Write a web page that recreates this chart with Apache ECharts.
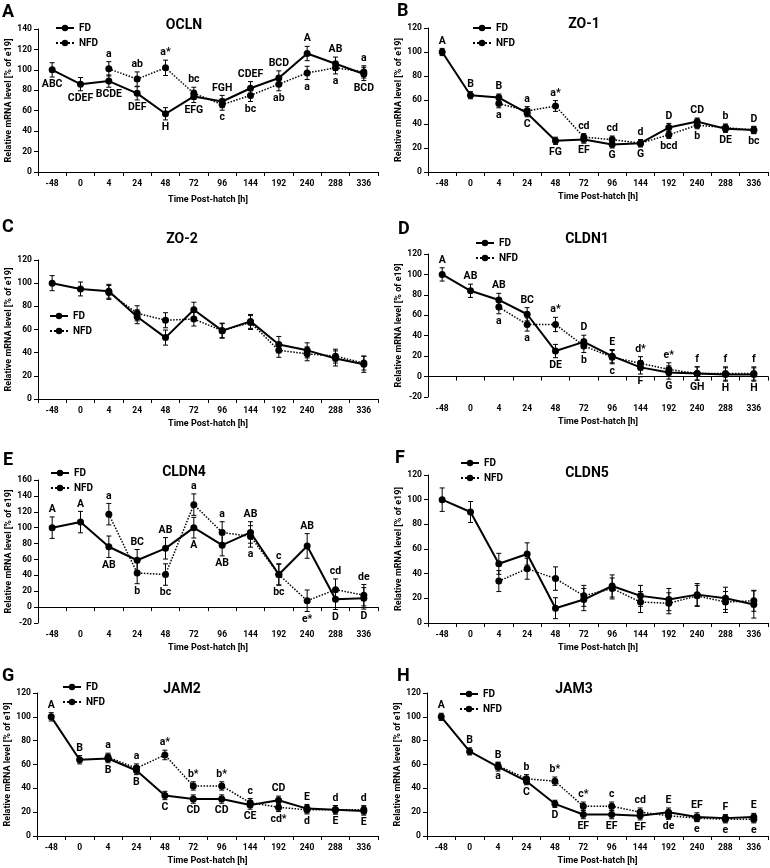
<!DOCTYPE html>
<html>
<head>
<meta charset="utf-8">
<script src="https://cdn.jsdelivr.net/npm/echarts@6/dist/echarts.min.js"></script>
<style>html,body{margin:0;padding:0;background:#fff}#c{width:770px;height:868px}</style>
</head>
<body>
<div id="c"></div>
<script>
// ---------- DATA ----------
const categories = ['-48','0','4','24','48','72','96','144','192','240','288','336'];
const geneTitles = ['OCLN','ZO-1','ZO-2','CLDN1','CLDN4','CLDN5','JAM2','JAM3'];
const panelLetters = ['A','B','C','D','E','F','G','H'];
const seriesNames = ['FD','NFD'];

// A OCLN
const oclnFD = [100,86,89,77,57,74,69,82,92,116,106,96];
const oclnNFD = [null,null,101,91,102,77,66,75,86,97,102,98];
const oclnFDErr = [7,6.5,6,6.5,6,6,6,6.5,7,7,6.5,6.5];
const oclnNFDErr = [null,null,7,7,7.5,6,5.5,6,6.5,6.5,6,6];
const oclnFDLab = ['ABC','CDEF','BCDE','DEF','H','EFG','FGH','CDEF','BCD','A','AB','BCD'];
const oclnFDPos = ['d','d','d','d','d','d','u','u','u','u','u','d'];
const oclnNFDLab = ['','','a','ab','a*','bc','c','bc','ab','a','a','a'];
const oclnNFDPos = ['','','u','u','u','u','d','d','d','d','d','u'];

// B ZO-1
const zo1FD = [100,64,62,49,26,27,23,24,37,42,36,35];
const zo1NFD = [null,null,57,51,55,29,27,24,31,39,37,35];
const zo1FDErr = [3,3,3,3,3,3,3,3,3.5,3,3,3];
const zo1NFDErr = [null,null,3.5,3.5,4.5,3,3,3,3,3,3,3];
const zo1FDLab = ['A','B','B','C','FG','EF','G','G','D','CD','DE','D'];
const zo1FDPos = ['u','u','u','d','d','d','d','d','u','u','d','u'];
const zo1NFDLab = ['','','a','a','a*','cd','cd','d','bcd','b','b','bc'];
const zo1NFDPos = ['','','d','u','u','u','u','u','d','d','u','d'];

// C ZO-2
const zo2FD = [100,95,93,71,53,77,59,67,47,42,35,30];
const zo2NFD = [null,null,92,74,68,69,59,66,42,39,37,31];
const zo2FDErr = [6.5,6,6,6,6.5,6.5,6.5,6,7,6.5,6.5,7];
const zo2NFDErr = [null,null,6,6.5,6.5,6,6,6,6,6,6,6];
const zo2FDLab = [];
const zo2FDPos = [];
const zo2NFDLab = [];
const zo2NFDPos = [];

// D CLDN1
const cldn1FD = [100,84,75,61,25,34,20,9,4,3,2,2];
const cldn1NFD = [null,null,68,51,51,30,19,13,7,3,3,3];
const cldn1FDErr = [6.5,6.5,6.5,6.5,6.5,6.5,6.5,6.5,6.5,6.5,6.5,6.5];
const cldn1NFDErr = [null,null,6.5,6.5,7,6.5,6.5,6.5,6.5,6.5,6.5,6.5];
const cldn1FDLab = ['A','AB','AB','BC','DE','D','E','F','G','GH','H','H'];
const cldn1FDPos = ['u','u','u','u','d','u','u','d','d','d','d','d'];
const cldn1NFDLab = ['','','a','a','a*','b','c','d*','e*','f','f','f'];
const cldn1NFDPos = ['','','d','d','u','d','d','u','u','u','u','u'];

// E CLDN4
const cldn4FD = [100,107,76,59,74,100,78,94,41,77,10,11];
const cldn4NFD = [null,null,117,43,41,129,94,89,41,8,22,15];
const cldn4FDErr = [13.5,13.5,13.5,13.5,13.5,13,13.5,13.5,13.5,15.5,13,13.5];
const cldn4NFDErr = [null,null,13.5,13.5,13.5,13.5,13.5,13.5,13,13.5,13.5,13.5];
const cldn4FDLab = ['A','A','AB','BC','AB','A','AB','AB','bc','AB','D','D'];
const cldn4FDPos = ['u','u','d','u','u','d','d','u','d','u','d','d'];
const cldn4NFDLab = ['','','a','b','bc','a','a','a','c','e*','cd','de'];
const cldn4NFDPos = ['','','u','d','d','u','u','d','u','d','u','u'];

// F CLDN5
const cldn5FD = [100,90,48,56,12,19,30,22,19,23,20,15];
const cldn5NFD = [null,null,34,44,36,22,28,17,16,22,17,18];
const cldn5FDErr = [9.5,8.5,8.5,9,8.5,9,9,8.5,9,9,9,11];
const cldn5NFDErr = [null,null,8.5,8.5,9.5,8.5,8.5,8.5,8.5,8.5,8.5,8.5];
const cldn5FDLab = [];
const cldn5FDPos = [];
const cldn5NFDLab = [];
const cldn5NFDPos = [];

// G JAM2
const jam2FD = [100,64,65,55,34,31,31,26,30,23,22,21];
const jam2NFD = [null,null,66,57,68,42,42,28,24,22,22,22];
const jam2FDErr = [3.5,3.5,3.5,3.5,3.5,3.5,3.5,3.5,3.5,3.5,3.5,3.5];
const jam2NFDErr = [null,null,3.5,3.5,4,3.5,3.5,3.5,3.5,3.5,3.5,3.5];
const jam2FDLab = ['A','B','B','B','C','CD','CD','CE','CD','E','E','E'];
const jam2FDPos = ['u','u','d','d','d','d','d','d','u','u','d','d'];
const jam2NFDLab = ['','','a','a','a*','b*','b*','c','cd*','d','d','d'];
const jam2NFDPos = ['','','u','u','u','u','u','u','d','d','u','u'];

// H JAM3
const jam3FD = [100,71,58,46,27,18,18,17,20,16,15,16];
const jam3NFD = [null,null,59,48,46,25,25,20,17,15,14,14];
const jam3FDErr = [3,3,3.5,3,3,3.5,3.5,3.5,3.5,3.5,3,3];
const jam3NFDErr = [null,null,3,3.5,3.5,3.5,3.5,3.5,3,3,3,3];
const jam3FDLab = ['A','B','B','C','D','EF','EF','EF','E','EF','F','E'];
const jam3FDPos = ['u','u','u','d','d','d','d','d','u','u','u','u'];
const jam3NFDLab = ['','','a','b','b*','c*','c','cd','de','e','e','e'];
const jam3NFDPos = ['','','d','u','u','u','u','u','d','d','d','d'];

const yMins = [0,0,0,-20,-20,0,0,0];
const yMaxs = [140,120,120,120,160,120,120,120];

const panelData = [
  [oclnFD,oclnNFD,oclnFDErr,oclnNFDErr,oclnFDLab,oclnFDPos,oclnNFDLab,oclnNFDPos],
  [zo1FD,zo1NFD,zo1FDErr,zo1NFDErr,zo1FDLab,zo1FDPos,zo1NFDLab,zo1NFDPos],
  [zo2FD,zo2NFD,zo2FDErr,zo2NFDErr,zo2FDLab,zo2FDPos,zo2NFDLab,zo2NFDPos],
  [cldn1FD,cldn1NFD,cldn1FDErr,cldn1NFDErr,cldn1FDLab,cldn1FDPos,cldn1NFDLab,cldn1NFDPos],
  [cldn4FD,cldn4NFD,cldn4FDErr,cldn4NFDErr,cldn4FDLab,cldn4FDPos,cldn4NFDLab,cldn4NFDPos],
  [cldn5FD,cldn5NFD,cldn5FDErr,cldn5NFDErr,cldn5FDLab,cldn5FDPos,cldn5NFDLab,cldn5NFDPos],
  [jam2FD,jam2NFD,jam2FDErr,jam2NFDErr,jam2FDLab,jam2FDPos,jam2NFDLab,jam2NFDPos],
  [jam3FD,jam3NFD,jam3FDErr,jam3NFDErr,jam3FDLab,jam3FDPos,jam3NFDLab,jam3NFDPos]
];

// ---------- LAYOUT ----------
const FONT = 'Roboto';
const layout = [
  {grid:{left:38,top:29,width:340,height:143}, legend:[55,23], title:[184,25], letter:[2,12], xGap:23},
  {grid:{left:428,top:28,width:340,height:144}, legend:[472,23], title:[584,24], letter:[397,11], xGap:20},
  {grid:{left:38,top:260,width:340,height:139}, legend:[49,311], title:[182,239], letter:[2,227], xGap:20},
  {grid:{left:428,top:254,width:340,height:143}, legend:[475,238], title:[587,239], letter:[398,229], xGap:20},
  {grid:{left:38,top:480,width:340,height:143}, legend:[50,468], title:[184,472], letter:[3,460], xGap:20},
  {grid:{left:428,top:475,width:340,height:148}, legend:[460,458], title:[587,473], letter:[395,458], xGap:20},
  {grid:{left:37,top:693,width:341,height:143}, legend:[62,682], title:[182,689], letter:[2,676], xGap:20},
  {grid:{left:427,top:693,width:341,height:143}, legend:[459,689], title:[574,689], letter:[397,676], xGap:20}
];

function errSeries(p, vals, errs, labs, pos, name) {
  const data = [];
  vals.forEach((v, i) => { if (v != null) data.push([i, v, errs[i], i]); });
  return {
    type: 'custom', name: name, xAxisIndex: p, yAxisIndex: p, silent: true, z: 1,
    encode: {x: 0, y: 1},
    data: data,
    renderItem: function (params, api) {
      const x = api.value(0), v = api.value(1), e = api.value(2), idx = api.value(3);
      const pt = api.coord([x, v]);
      const hi = api.coord([x, v + e]);
      const lo = api.coord([x, v - e]);
      const cap = 2.5;
      const st = {stroke: '#000', lineWidth: 1};
      const children = [
        {type: 'line', shape: {x1: pt[0], y1: hi[1], x2: pt[0], y2: lo[1]}, style: st},
        {type: 'line', shape: {x1: pt[0] - cap, y1: hi[1], x2: pt[0] + cap, y2: hi[1]}, style: st},
        {type: 'line', shape: {x1: pt[0] - cap, y1: lo[1], x2: pt[0] + cap, y2: lo[1]}, style: st}
      ];
      if (labs[idx]) {
        const up = pos[idx] === 'u';
        children.push({
          type: 'text', x: pt[0], y: up ? hi[1] - 2 : lo[1] + 2,
          style: {text: labs[idx], align: 'center', verticalAlign: up ? 'bottom' : 'top',
                  font: 'bold 10.5px ' + FONT, fill: '#000'}
        });
      }
      return {type: 'group', children: children};
    }
  };
}

const grids = [], xAxes = [], yAxes = [], series = [], legends = [], graphics = [];
layout.forEach((L, p) => {
  grids.push(Object.assign({}, L.grid));
  xAxes.push({
    type: 'category', gridIndex: p, data: categories,
    name: 'Time Post-hatch [h]', nameLocation: 'middle', nameGap: L.xGap,
    nameTextStyle: {fontFamily: FONT, fontWeight: 'bold', fontSize: 9, color: '#000'},
    axisLine: {lineStyle: {color: '#000', width: 1}},
    axisTick: {show: true, length: 4, lineStyle: {color: '#000'}},
    axisLabel: {fontFamily: FONT, fontWeight: 'bold', fontSize: 8.5, color: '#000', margin: 7, interval: 0},
    splitLine: {show: false}
  });
  yAxes.push({
    type: 'value', gridIndex: p, min: yMins[p], max: yMaxs[p], interval: 20,
    name: 'Relative mRNA level [% of e19]', nameLocation: 'middle', nameGap: 25,
    nameTextStyle: {fontFamily: FONT, fontWeight: 'bold', fontSize: 9, color: '#000'},
    axisLine: {show: true, lineStyle: {color: '#000', width: 1}},
    axisTick: {show: true, length: 4, lineStyle: {color: '#000'}},
    axisLabel: {fontFamily: FONT, fontWeight: 'bold', fontSize: 8.5, color: '#000', margin: 6},
    splitLine: {show: false}
  });
  const d = panelData[p];
  series.push(errSeries(p, d[0], d[2], d[4], d[5], 'FD err ' + p));
  series.push(errSeries(p, d[1], d[3], d[6], d[7], 'NFD err ' + p));
  series.push({
    type: 'line', name: seriesNames[0], xAxisIndex: p, yAxisIndex: p, data: d[0], z: 3,
    symbol: 'circle', symbolSize: 7, itemStyle: {color: '#000'},
    lineStyle: {color: '#000', width: 2, type: 'solid'}, emphasis: {disabled: true}
  });
  series.push({
    type: 'line', name: seriesNames[1], xAxisIndex: p, yAxisIndex: p, data: d[1], z: 2,
    symbol: 'circle', symbolSize: 7, itemStyle: {color: '#000'},
    lineStyle: {color: '#000', width: 1.5, type: 'dotted'}, emphasis: {disabled: true}
  });
  legends.push({
    left: L.legend[0], top: L.legend[1], orient: 'vertical', padding: 0, itemGap: 5,
    itemWidth: 18, itemHeight: 8, selectedMode: false,
    data: seriesNames,
    textStyle: {fontFamily: FONT, fontWeight: 'bold', fontSize: 10, color: '#000'}
  });
  graphics.push({
    type: 'text', x: L.title[0], y: L.title[1],
    style: {text: geneTitles[p], align: 'center', verticalAlign: 'middle', font: 'bold 14px ' + FONT, fill: '#000'}
  });
  graphics.push({
    type: 'text', x: L.letter[0], y: L.letter[1],
    style: {text: panelLetters[p], align: 'left', verticalAlign: 'middle', font: 'bold 18px ' + FONT, fill: '#000'}
  });
});

const chart = echarts.init(document.getElementById('c'), null, {renderer: 'canvas'});
chart.setOption({
  backgroundColor: '#fff',
  animation: false,
  grid: grids, xAxis: xAxes, yAxis: yAxes, series: series, legend: legends,
  graphic: graphics
});
</script>
</body>
</html>
